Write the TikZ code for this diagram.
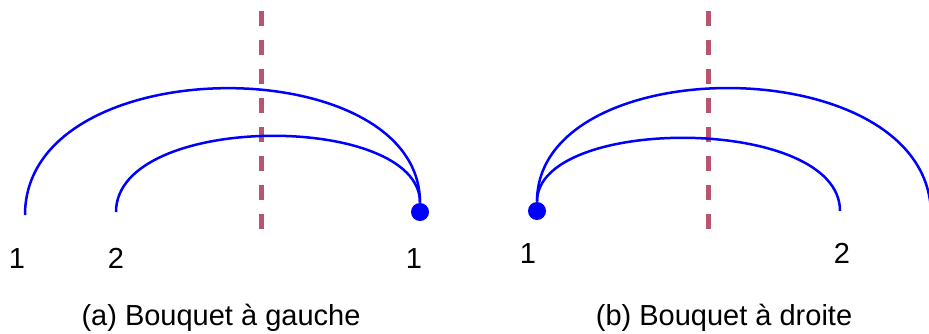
\documentclass[tikz,border=0pt]{standalone}
\usepackage{fontspec}
\setmainfont{Liberation Sans}
\usepackage{xcolor}
\definecolor{cutcol}{RGB}{184,84,110}
\definecolor{arcblue}{RGB}{0,0,255}

\begin{document}
\begin{tikzpicture}[x=0.5pt, y=-0.5pt,
    arc/.style={arcblue, line width=1.25pt},
    cut/.style={cutcol, line width=2.5pt, dash pattern=on 7.5pt off 7pt},
    knot/.style={circle, fill=arcblue, inner sep=0pt, minimum size=9pt},
    lbl/.style={anchor=base, font=\fontsize{14.5}{17}\selectfont}]

        \useasboundingbox (0,0) rectangle (929,333);
        \clip (0,0) rectangle (929,333);

        %
        \def\cuttop{11}
        \def\cutbot{235}

        %
        \coordinate (Ga) at (25,215);
        \coordinate (Gb) at (116,212);
        \node[knot] (Gk) at (420,212) {};
        \coordinate (Gt) at (261,\cuttop);
        \coordinate (Gu) at (261,\cutbot);

        %
        \coordinate (Da) at (931,215);
        \coordinate (Db) at (840,211);
        \node[knot] (Dk) at (537,211) {};
        \coordinate (Dt) at (708,\cuttop);
        \coordinate (Du) at (708,\cutbot);

        %
        \draw[cut] (Gt) -- (Gu);
        \draw[cut] (Dt) -- (Du);

        %
        \draw[arc] (Ga) .. controls +(0,-167) and +(0,-164) .. (Gk);
        \draw[arc] (Gb) .. controls +(0,-100) and +(0,-100) .. (Gk);

        %
        \draw[arc] (Dk) .. controls +(0,-163) and +(0,-167) .. (Da);
        \draw[arc] (Dk) .. controls +(0,-96) and +(0,-96) .. (Db);

        %
        \node[lbl] (Gl1) at (17,268) {1};
        \node[lbl] (Gl2) at (116,268) {2};
        \node[lbl] (Gl3) at (414,268) {1};
        \node[lbl] (Gcap) at (221,325) {(a) Bouquet à gauche};

        \node[lbl] (Dl1) at (528,263) {1};
        \node[lbl] (Dl2) at (842,263) {2};
        \node[lbl] (Dl3) at (936,263) {1};
        \node[lbl] (Dcap) at (724,325) {(b) Bouquet à droite};

    \end{tikzpicture}
\end{document}
